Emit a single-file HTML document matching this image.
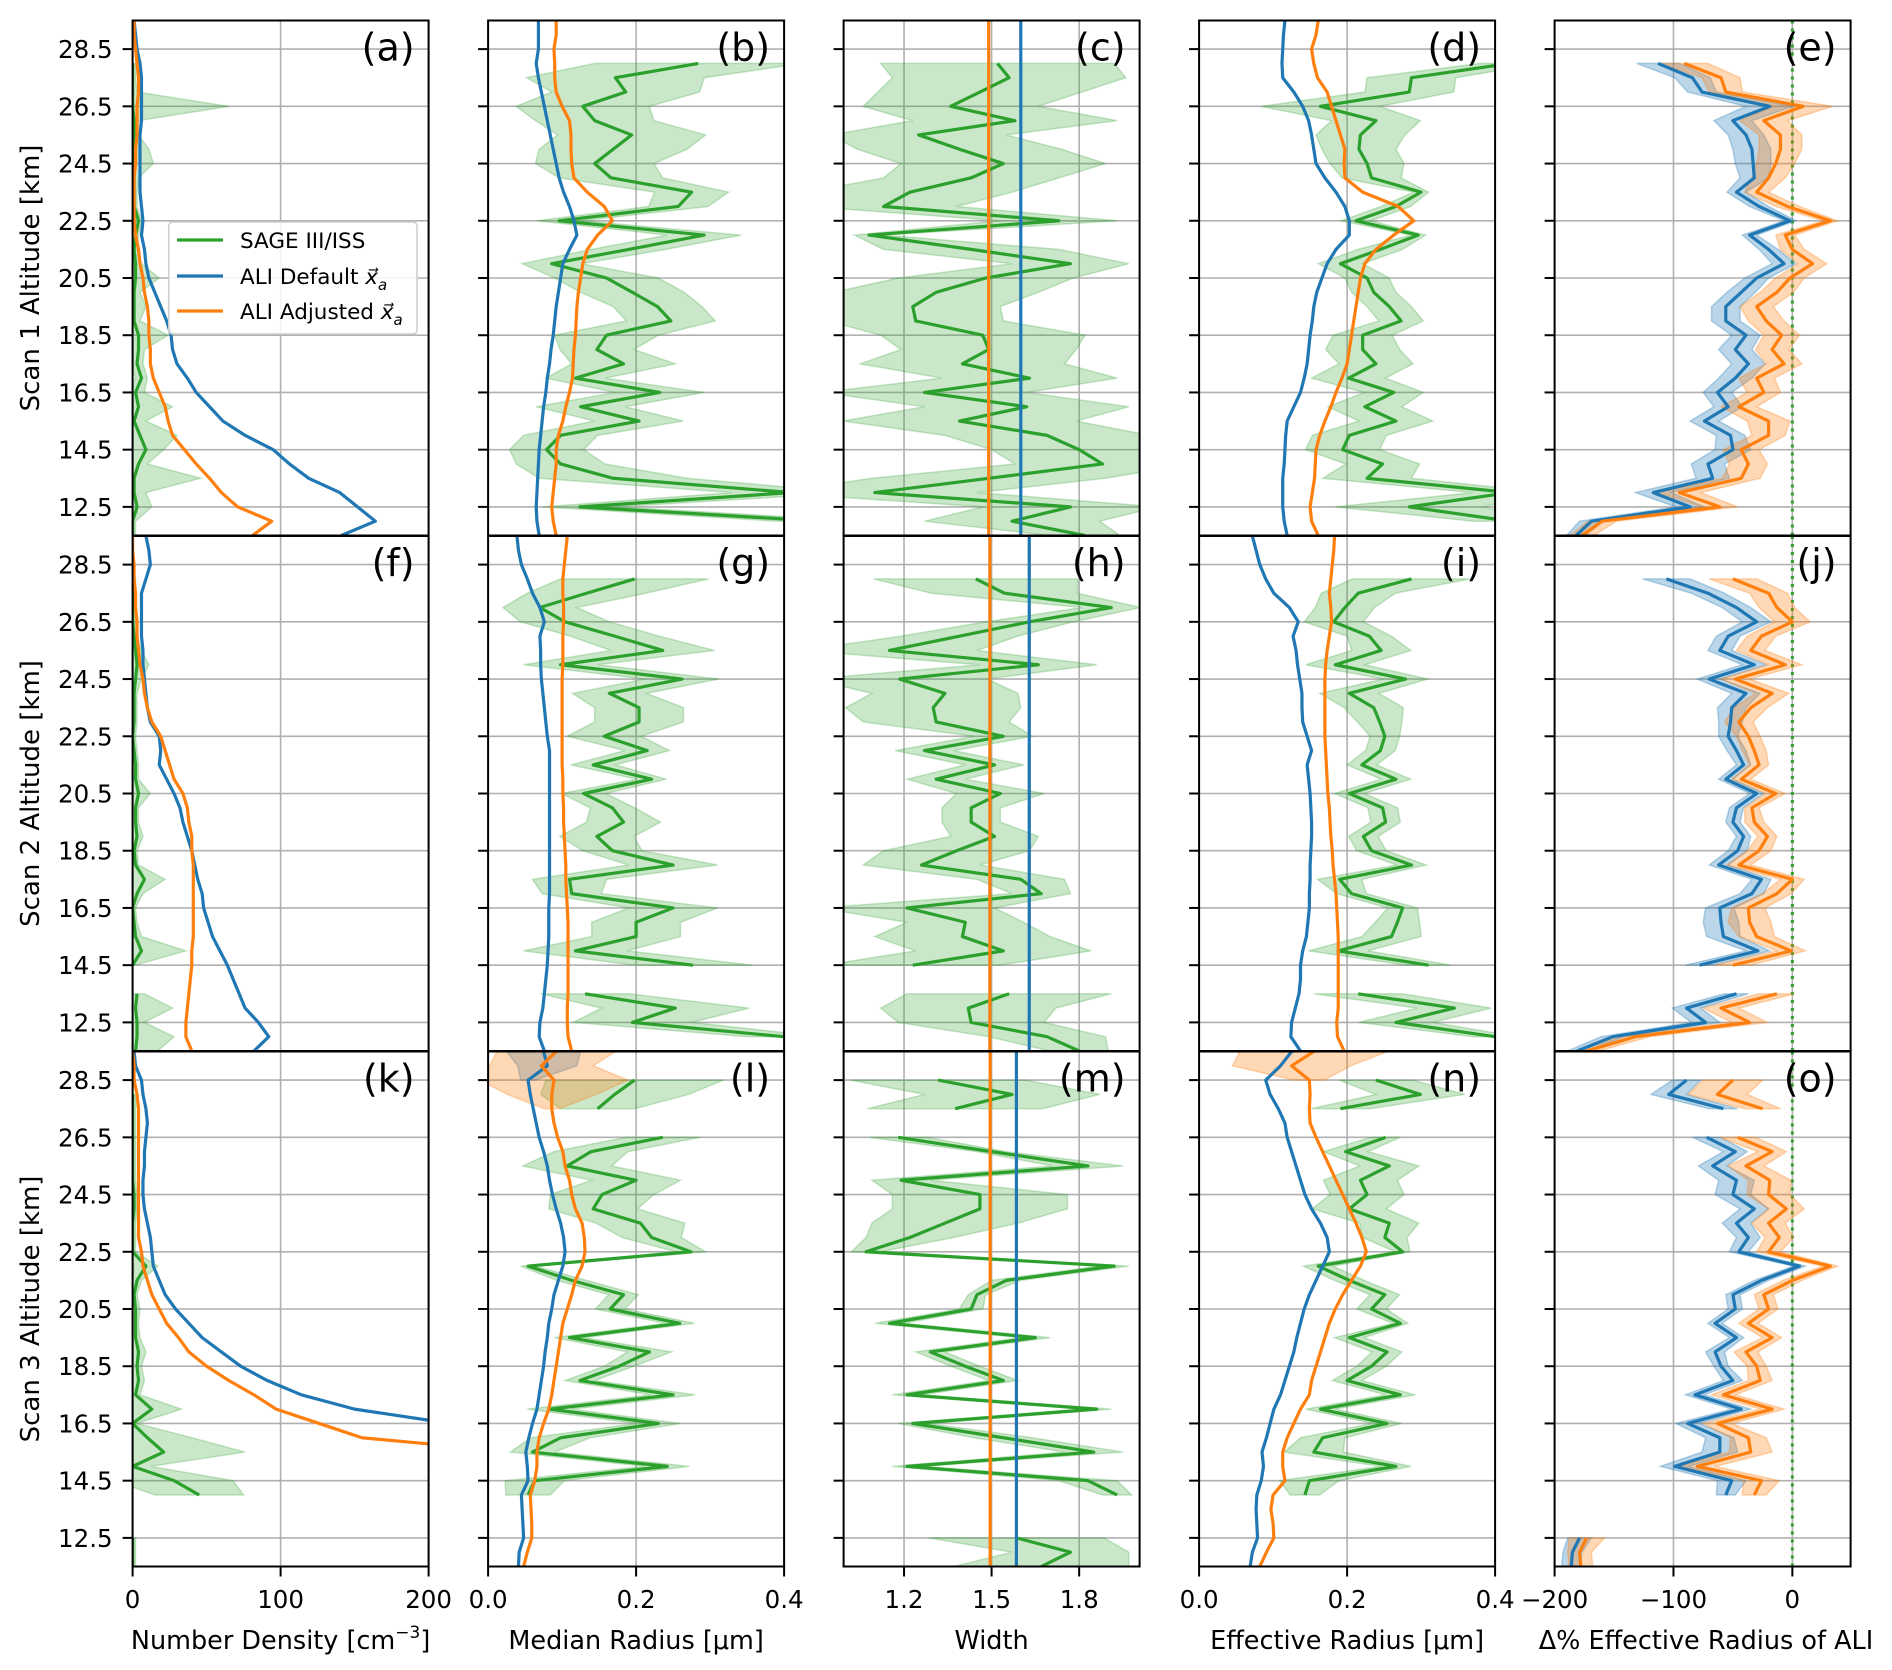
<!DOCTYPE html>
<html><head><meta charset="utf-8"><style>
html,body{margin:0;padding:0;background:#fff;}
svg{display:block;font-family:"DejaVu Sans","Liberation Sans",sans-serif;}
</style></head><body>
<svg id="fig" xmlns="http://www.w3.org/2000/svg" width="1892" height="1670" viewBox="0 0 1892 1670">
<rect x="0" y="0" width="1892" height="1670" fill="#fff"/>
</svg>
<script>
// ---------- data (altitude 11.5 .. 29.5 km, step 0.5) ----------
const altitudes = [11.5,12,12.5,13,13.5,14,14.5,15,15.5,16,16.5,17,17.5,18,18.5,19,19.5,20,20.5,21,21.5,22,22.5,23,23.5,24,24.5,25,25.5,26,26.5,27,27.5,28,28.5,29,29.5];
const yTickValues = [12.5,14.5,16.5,18.5,20.5,22.5,24.5,26.5,28.5];
const yTickLabels = ["12.5","14.5","16.5","18.5","20.5","22.5","24.5","26.5","28.5"];
const xTicksDensity = [0,100,200];   const xTickLabelsDensity = ["0","100","200"];
const xTicksRadius = [0,0.2,0.4];    const xTickLabelsRadius = ["0.0","0.2","0.4"];
const xTicksWidth = [1.2,1.5,1.8];   const xTickLabelsWidth = ["1.2","1.5","1.8"];
const xTicksDelta = [-200,-100,0];   const xTickLabelsDelta = ["\u2212200","\u2212100","0"];
const panelLetters = ["(a)","(b)","(c)","(d)","(e)","(f)","(g)","(h)","(i)","(j)","(k)","(l)","(m)","(n)","(o)"];
const rowTitles = ["Scan 1 Altitude [km]","Scan 2 Altitude [km]","Scan 3 Altitude [km]"];

// Scan 1
const a1_green = [0,0,3,1,1,4,9,5,1,4,2,6,3,4,4,1,1,1,2,2,1,2,4,1,1,1,1,1,1,1,0,0,0,0,null,null,null];
const a1_greenErr = [2,2,10,8,45,6,12,25,8,23,6,4,4,4,20,4,8,4,16,4,2,2,2,2,2,3,13,10,3,3,65,3,2,2,0,0,0];
const a1_blue = [141,164,152,140,119,106,95,76,61,52,43,37,30,27,26,23,19,15,11,9,8,6,7,6,5,5,5,5,5,6,6,6,6,5,3,2,1];
const a1_orange = [81,94,71,60,52,43,35,27,24,22,18,14,12,12,11,11,10,8,7,5,4,2,1,1,1,1,2,2,3,3,3,4,4,3,2,1,1];

const b1_green = [null,0.45,0.124,0.41,0.169,0.098,0.079,0.098,0.204,0.125,0.232,0.118,0.183,0.147,0.16,0.247,0.229,0.195,0.16,0.086,0.19,0.292,0.096,0.257,0.275,0.166,0.144,0.169,0.194,0.144,0.128,0.186,0.172,0.284,null,null,null];
const b1_greenErr = [0,0.06,0.05,0.08,0.1,0.06,0.05,0.05,0.06,0.06,0.06,0.04,0.07,0.05,0.07,0.06,0.06,0.07,0.07,0.04,0.05,0.05,0.03,0.04,0.05,0.07,0.08,0.1,0.1,0.08,0.09,0.1,0.12,0.14,0,0,0];
const b1_blue = [0.069,0.066,0.065,0.066,0.067,0.068,0.069,0.071,0.073,0.075,0.078,0.08,0.083,0.085,0.088,0.09,0.092,0.095,0.098,0.101,0.11,0.12,0.116,0.11,0.102,0.096,0.092,0.088,0.084,0.08,0.076,0.072,0.068,0.065,0.068,0.068,0.068];
const b1_orange = [0.092,0.088,0.086,0.088,0.09,0.092,0.092,0.095,0.101,0.105,0.11,0.114,0.115,0.116,0.118,0.119,0.12,0.122,0.125,0.128,0.134,0.148,0.168,0.157,0.134,0.116,0.113,0.112,0.112,0.11,0.1,0.092,0.09,0.09,0.089,0.092,0.092];

const c1_green = [1.82,1.57,1.77,1.10,1.49,1.88,1.80,1.69,1.39,1.62,1.27,1.63,1.40,1.49,1.47,1.24,1.23,1.31,1.48,1.77,1.43,1.08,1.73,1.13,1.22,1.43,1.54,1.39,1.25,1.58,1.36,1.46,1.56,1.52,null,null,null];
const c1_greenErr = [0.12,0.3,0.3,0.35,0.4,0.3,0.3,0.35,0.4,0.35,0.35,0.3,0.35,0.3,0.35,0.3,0.3,0.35,0.3,0.2,0.3,0.05,0.2,0.25,0.35,0.3,0.35,0.35,0.3,0.35,0.3,0.35,0.4,0.4,0,0,0];
const c1_blue = [1.60];
const c1_orange = [1.49];

const d1_green = [null,0.42,0.284,0.42,0.227,0.248,0.194,0.203,0.266,0.224,0.263,0.202,0.239,0.221,0.221,0.273,0.257,0.236,0.227,0.191,0.245,0.296,0.212,0.266,0.30,0.233,0.227,0.216,0.218,0.239,0.164,0.284,0.287,0.42,null,null,null];
const d1_greenErr = [0,0.05,0.1,0.05,0.06,0.05,0.05,0.05,0.05,0.05,0.04,0.05,0.05,0.05,0.04,0.03,0.03,0.03,0.03,0.03,0.03,0.01,0.02,0.02,0.01,0.04,0.05,0.05,0.06,0.06,0.08,0.06,0.06,0.04,0,0,0];
const d1_blue = [0.119,0.115,0.113,0.113,0.113,0.115,0.116,0.117,0.119,0.128,0.137,0.142,0.146,0.148,0.15,0.153,0.155,0.159,0.166,0.173,0.185,0.203,0.203,0.197,0.185,0.17,0.158,0.155,0.152,0.148,0.14,0.128,0.113,0.112,0.113,0.114,0.116];
const d1_orange = [0.161,0.152,0.15,0.153,0.156,0.157,0.158,0.163,0.17,0.178,0.185,0.193,0.2,0.203,0.206,0.209,0.212,0.215,0.218,0.224,0.239,0.263,0.29,0.269,0.221,0.197,0.196,0.197,0.191,0.185,0.179,0.173,0.16,0.155,0.152,0.158,0.161];

const e1_blue = [-182,-169,-86,-117,-67,-71,-50,-52,-74,-54,-63,-48,-37,-48,-39,-56,-56,-43,-30,-7,-20,-36,-2,-28,-47,-32,-33,-34,-39,-50,-19,-76,-84,-113,null,null,null];
const e1_blueErr = [8,10,12,15,14,14,15,12,12,12,12,14,14,14,12,12,12,12,10,10,8,6,5,8,8,12,15,16,15,16,20,12,15,18,0,0,0];
const e1_orange = [-177,-160,-61,-95,-43,-37,-43,-20,-20,-45,-24,-30,-7,-17,-9,-22,-30,-13,-2,17,0,-6,32,-4,-30,-20,-14,-10,-10,-24,9,-56,-60,-91,null,null,null];
const e1_orangeErr = [10,12,15,18,16,16,15,14,18,15,14,15,15,14,15,15,14,14,12,12,10,8,6,10,10,14,16,18,18,20,25,14,16,20,0,0,0];

// Scan 2
const f2_green = [2,3,3,2,3,null,0,6,2,1,0,3,8,2,1,3,2,2,4,2,2,1,0,1,1,1,2,3,2,1,0,0,0,0,null,null,null];
const f2_greenErr = [15,25,5,25,5,0,2,30,4,2,2,4,14,2,2,4,2,2,8,2,2,2,2,2,2,2,4,8,4,2,2,2,2,2,0,0,0];
const f2_blue = [82,92,85,76,72,68,64,59,54,51,48,47,44,42,40,37,34,32,28,23,18,19,18,12,10,9,8,7,7,6,6,6,6,9,12,11,9];
const f2_orange = [40,36,36,37,38,39,40,40,41,41,41,41,41,41,40,40,38,37,34,28,25,22,19,13,10,8,7,5,4,3,3,2,2,1,1,0,0];

const g2_green = [null,0.40,0.195,0.253,0.131,null,0.277,0.118,0.2,0.2,0.25,0.113,0.11,0.25,0.168,0.147,0.183,0.168,0.129,0.221,0.142,0.215,0.157,0.204,0.204,0.164,0.262,0.098,0.236,0.171,0.104,0.07,0.133,0.198,null,null,null];
const g2_greenErr = [0,0.05,0.08,0.1,0.06,0,0.08,0.07,0.06,0.06,0.06,0.04,0.05,0.06,0.04,0.05,0.05,0.03,0.03,0.02,0.03,0.03,0.05,0.06,0.06,0.05,0.05,0.05,0.07,0.06,0.06,0.05,0.08,0.1,0,0,0];
const g2_blue = [0.076,0.069,0.07,0.074,0.076,0.078,0.08,0.081,0.082,0.082,0.082,0.083,0.083,0.083,0.083,0.083,0.083,0.083,0.083,0.083,0.083,0.083,0.08,0.078,0.076,0.074,0.072,0.071,0.071,0.07,0.076,0.07,0.06,0.053,0.045,0.041,0.039];
const g2_orange = [0.113,0.108,0.107,0.107,0.108,0.108,0.108,0.108,0.108,0.108,0.107,0.106,0.105,0.105,0.104,0.103,0.102,0.102,0.101,0.101,0.1,0.1,0.1,0.1,0.1,0.1,0.1,0.101,0.101,0.101,0.102,0.102,0.101,0.101,0.103,0.105,0.107];

const h2_green = [1.80,1.69,1.43,1.42,1.56,null,1.23,1.54,1.40,1.41,1.21,1.67,1.60,1.26,1.38,1.51,1.43,1.43,1.53,1.31,1.51,1.27,1.54,1.31,1.30,1.34,1.185,1.66,1.15,1.39,1.63,1.91,1.544,1.446,null,null,null];
const h2_greenErr = [0.1,0.2,0.25,0.3,0.35,0,0.3,0.3,0.3,0.2,0.3,0.1,0.15,0.2,0.25,0.15,0.1,0.1,0.15,0.1,0.1,0.1,0.1,0.25,0.3,0.25,0.3,0.2,0.3,0.2,0.15,0.1,0.25,0.35,0,0,0];
const h2_blue = [1.629];
const h2_orange = [1.494];

const i2_green = [null,0.40,0.266,0.345,0.215,null,0.31,0.188,0.26,0.268,0.275,0.206,0.19,0.287,0.233,0.222,0.252,0.248,0.203,0.266,0.22,0.245,0.251,0.244,0.236,0.203,0.279,0.184,0.246,0.23,0.182,0.197,0.215,0.287,null,null,null];
const i2_greenErr = [0,0.03,0.05,0.05,0.06,0,0.03,0.04,0.04,0.03,0.02,0.02,0.03,0.02,0.02,0.02,0.02,0.02,0.02,0.02,0.02,0.02,0.02,0.03,0.04,0.04,0.03,0.04,0.04,0.03,0.04,0.04,0.05,0.08,0,0,0];
const i2_blue = [0.137,0.124,0.125,0.13,0.135,0.137,0.137,0.14,0.145,0.147,0.149,0.149,0.15,0.15,0.151,0.152,0.152,0.151,0.15,0.148,0.146,0.152,0.146,0.14,0.139,0.139,0.136,0.133,0.131,0.127,0.134,0.122,0.101,0.09,0.082,0.077,0.072];
const i2_orange = [0.196,0.187,0.186,0.188,0.188,0.188,0.188,0.188,0.188,0.187,0.186,0.185,0.183,0.181,0.18,0.178,0.177,0.176,0.174,0.173,0.172,0.171,0.17,0.17,0.17,0.17,0.17,0.171,0.173,0.176,0.179,0.178,0.176,0.178,0.18,0.182,0.183];

const j2_blue = [-181,-151,-73,-89,-47,null,-78,-29,-58,-60,-61,-34,-26,-62,-46,-41,-50,-47,-30,-56,-41,-47,-54,-52,-51,-39,-70,-32,-61,-54,-30,-47,-71,-106,null,null,null];
const j2_blueErr = [8,10,12,12,10,0,12,10,14,15,12,10,8,8,8,6,6,6,6,6,6,8,8,10,12,12,10,10,10,10,12,12,14,20,0,0,0];
const j2_orange = [-173,-132,-36,-60,-13,null,-50,-1,-30,-36,-37,-13,0,-45,-28,-21,-32,-34,-14,-43,-28,-32,-37,-45,-35,-17,-48,-6,-35,-26,0,-13,-20,-50,null,null,null];
const j2_orangeErr = [10,12,15,15,15,0,15,12,15,18,14,12,10,10,10,8,8,6,8,8,8,10,10,12,14,14,12,14,12,12,15,15,16,20,0,0,0];

// Scan 3
const k3_green = [0,0,0,null,null,45,28,0,21,10,0,13,2,4,3,4,2,2,2,1,3,9,0,0,0,1,1,0,0,0,0,0,0,0,null,null,null];
const k3_greenErr = [2,2,2,0,0,30,40,12,55,30,3,20,3,4,3,5,3,2,3,2,3,8,2,2,2,2,2,2,2,2,2,2,2,2,0,0,0];
const k3_blue = [null,null,null,null,null,null,null,null,400,320,215,150,114,91,73,60,47,38,29,22,18,14,13,12,10,8,7,7,8,8,9,10,9,7,6,2,1];
const k3_orange = [null,null,null,null,null,null,null,400,260,155,126,97,82,65,50,38,31,23,18,13,10,7,6,4,4,4,4,4,4,4,4,4,4,3,1,1,0];

const l3_green = [null,null,null,null,null,0.054,0.063,0.242,0.06,0.098,0.23,0.083,0.25,0.124,0.177,0.218,0.11,0.259,0.165,0.183,0.113,0.054,0.274,0.221,0.206,0.142,0.154,0.2,0.107,0.139,0.236,null,0.148,0.171,0.198,null,null];
const l3_greenErr = [0,0,0,0,0,0.03,0.04,0.03,0.03,0.04,0.03,0.03,0.03,0.02,0.02,0.03,0.02,0.02,0.02,0.02,0.02,0.01,0.02,0.04,0.06,0.06,0.07,0.06,0.06,0.05,0.05,0,0.05,0.1,0.12,0,0];
const l3_blue = [0.041,0.042,0.048,0.047,0.046,0.045,0.054,0.053,0.051,0.055,0.06,0.066,0.069,0.072,0.075,0.077,0.08,0.082,0.086,0.089,0.095,0.101,0.104,0.102,0.098,0.092,0.087,0.083,0.08,0.075,0.069,0.065,0.061,0.057,0.054,0.08,0.075];
const l3_blueErr = [0,0,0,0,0,0,0,0,0,0,0,0,0,0,0,0,0,0,0,0,0,0,0,0,0,0,0,0,0,0,0,0,0,0,0.01,0.04,0.05];
const l3_orange = [0.048,0.053,0.059,0.059,0.058,0.057,0.063,0.066,0.066,0.069,0.075,0.082,0.086,0.089,0.092,0.095,0.098,0.101,0.107,0.113,0.118,0.127,0.131,0.13,0.127,0.118,0.113,0.11,0.104,0.101,0.094,0.089,0.086,0.086,0.089,0.072,0.092];
const l3_orangeErr = [0,0,0,0,0,0,0,0,0,0,0,0,0,0,0,0,0,0,0,0,0,0,0,0,0,0,0,0,0,0,0,0,0.01,0.06,0.1,0.07,0.08];

const m3_green = [1.67,1.77,1.585,null,null,1.93,1.83,1.21,1.85,1.54,1.23,1.86,1.21,1.54,1.41,1.29,1.65,1.15,1.43,1.45,1.55,1.92,1.07,1.22,1.34,1.46,1.46,1.19,1.83,1.50,1.18,null,1.375,1.57,1.317,null,null];
const m3_greenErr = [0.3,0.2,0.3,0,0,0.05,0.1,0.05,0.1,0.1,0.05,0.05,0.05,0.05,0.05,0.05,0.05,0.05,0.04,0.03,0.05,0.05,0.05,0.15,0.25,0.3,0.3,0.1,0.12,0.05,0.1,0,0.3,0.3,0.3,0,0];
const m3_blue = [1.585];
const m3_orange = [1.495];

const n3_green = [null,null,null,null,null,0.143,0.149,0.266,0.155,0.167,0.254,0.164,0.272,0.2,0.233,0.254,0.203,0.272,0.233,0.251,0.203,0.161,0.275,0.251,0.257,0.203,0.227,0.218,0.257,0.198,0.252,null,0.191,0.299,0.239,null,null];
const n3_greenErr = [0,0,0,0,0,0.02,0.04,0.02,0.04,0.03,0.02,0.02,0.02,0.02,0.02,0.02,0.02,0.01,0.02,0.02,0.02,0.02,0.01,0.03,0.04,0.05,0.05,0.05,0.04,0.03,0.02,0,0.04,0.06,0.05,0,0];
const n3_blue = [0.069,0.072,0.079,0.078,0.077,0.078,0.084,0.087,0.085,0.091,0.096,0.101,0.11,0.116,0.122,0.128,0.132,0.137,0.142,0.149,0.158,0.167,0.176,0.173,0.164,0.152,0.143,0.137,0.131,0.125,0.119,0.116,0.107,0.096,0.09,0.11,0.125];
const n3_orange = [0.082,0.091,0.101,0.1,0.097,0.1,0.116,0.113,0.113,0.119,0.128,0.137,0.149,0.152,0.158,0.164,0.17,0.176,0.184,0.194,0.206,0.218,0.226,0.22,0.212,0.203,0.194,0.185,0.176,0.167,0.158,0.15,0.149,0.15,0.149,0.125,0.155];
const n3_orangeErr = [0,0,0,0,0,0,0,0,0,0,0,0,0,0,0,0,0,0,0,0,0,0,0,0,0,0,0,0,0,0,0,0,0,0,0.02,0.08,0.1];

const o3_blue = [-186,-185,-179,null,null,-56,-51,-99,-61,-61,-88,-43,-82,-50,-60,-65,-47,-65,-48,-50,-26,6,-45,-37,-47,-32,-50,-47,-67,-48,-72,null,-58,-104,-89,null,null];
const o3_blueErr = [8,8,10,0,0,8,12,12,15,12,10,8,8,8,6,8,6,6,6,6,6,5,8,10,12,12,15,15,12,10,12,0,12,15,12,0,0];
const o3_orange = [-178,-179,-173,null,null,-32,-26,-80,-35,-37,-63,-17,-58,-27,-30,-39,-17,-37,-20,-24,0,32,-20,-11,-20,-5,-20,-19,-39,-17,-46,null,-25,-63,-50,null,null];
const o3_orangeErr = [10,10,15,0,0,10,15,15,18,15,12,10,10,10,8,10,8,8,8,8,8,6,10,12,14,15,18,18,15,12,15,0,15,25,25,0,0];

// ---------- layout ----------
const svg = document.getElementById('fig');
const NS = 'http://www.w3.org/2000/svg';
const PW = 296, PH = 515;
const colX = [132.6, 488.1, 843.6, 1199.1, 1554.6];
const rowY = [20.5, 536, 1051.5];
const ZMIN = 11.5, ZMAX = 29.5;
const C_G = '#2ca02c', C_B = '#1f77b4', C_O = '#ff7f0e';
const axesCfg = [
  {xmin:0, xmax:200, ticks:xTicksDensity, labels:xTickLabelsDensity},
  {xmin:0, xmax:0.4, ticks:xTicksRadius, labels:xTickLabelsRadius},
  {xmin:0.993, xmax:2.007, ticks:xTicksWidth, labels:xTickLabelsWidth},
  {xmin:0, xmax:0.4, ticks:xTicksRadius, labels:xTickLabelsRadius},
  {xmin:-200, xmax:49, ticks:xTicksDelta, labels:xTickLabelsDelta}
];
const panelSeries = [
  [{g:a1_green,ge:a1_greenErr,b:a1_blue,o:a1_orange},{g:b1_green,ge:b1_greenErr,b:b1_blue,o:b1_orange},{g:c1_green,ge:c1_greenErr,b:c1_blue,o:c1_orange},{g:d1_green,ge:d1_greenErr,b:d1_blue,o:d1_orange},{b:e1_blue,be:e1_blueErr,o:e1_orange,oe:e1_orangeErr}],
  [{g:f2_green,ge:f2_greenErr,b:f2_blue,o:f2_orange},{g:g2_green,ge:g2_greenErr,b:g2_blue,o:g2_orange},{g:h2_green,ge:h2_greenErr,b:h2_blue,o:h2_orange},{g:i2_green,ge:i2_greenErr,b:i2_blue,o:i2_orange},{b:j2_blue,be:j2_blueErr,o:j2_orange,oe:j2_orangeErr}],
  [{g:k3_green,ge:k3_greenErr,b:k3_blue,o:k3_orange},{g:l3_green,ge:l3_greenErr,b:l3_blue,be:l3_blueErr,o:l3_orange,oe:l3_orangeErr},{g:m3_green,ge:m3_greenErr,b:m3_blue,o:m3_orange},{g:n3_green,ge:n3_greenErr,b:n3_blue,o:n3_orange,oe:n3_orangeErr},{b:o3_blue,be:o3_blueErr,o:o3_orange,oe:o3_orangeErr}]
];

function mk(tag, attrs, parent){
  const e = document.createElementNS(NS, tag);
  for (const k in attrs) e.setAttribute(k, attrs[k]);
  (parent||svg).appendChild(e);
  return e;
}
const defs = mk('defs', {});

function drawLine(g, sx, sy, vals, color, name){
  if (vals.length === 1){
    const l = mk('line', {x1:sx(vals[0]), x2:sx(vals[0]), y1:sy(ZMIN), y2:sy(ZMAX), stroke:color, 'stroke-width':3.2}, g);
    
    
    return;
  }
  let d = '', pen = false;
  for (let i = 0; i < altitudes.length; i++){
    const v = vals[i];
    if (v === null || v === undefined){ pen = false; continue; }
    d += (pen ? 'L' : 'M') + sx(v).toFixed(2) + ',' + sy(altitudes[i]).toFixed(2);
    pen = true;
  }
  const p = mk('path', {d:d, fill:'none', stroke:color, 'stroke-width':3.2, 'stroke-linejoin':'round'}, g);
  
  
}
function drawBand(g, sx, sy, vals, errs, color, op, name){
  if (!errs || vals.length === 1) return;
  let seg = [];
  const segs = [];
  for (let i = 0; i < altitudes.length; i++){
    const v = vals[i], e = errs[i];
    if (v === null || e === null || !(e > 0)){ if (seg.length) segs.push(seg); seg = []; continue; }
    seg.push(i);
  }
  if (seg.length) segs.push(seg);
  segs.forEach(s => {
    let pts = [];
    s.forEach(i => pts.push(sx(vals[i]-errs[i]).toFixed(2)+','+sy(altitudes[i]).toFixed(2)));
    s.slice().reverse().forEach(i => pts.push(sx(vals[i]+errs[i]).toFixed(2)+','+sy(altitudes[i]).toFixed(2)));
    const poly = mk('polygon', {points:pts.join(' '), fill:color, 'fill-opacity':op, stroke:color, 'stroke-opacity':op, 'stroke-width':1.5}, g);
    
    
  });
}

for (let r = 0; r < 3; r++){
  for (let c = 0; c < 5; c++){
    const cfg = axesCfg[c];
    const x0 = colX[c], y0 = rowY[r];
    const sx = v => x0 + (v - cfg.xmin) / (cfg.xmax - cfg.xmin) * PW;
    const sy = z => y0 + (ZMAX - z) / (ZMAX - ZMIN) * PH;
    const idx = r*5 + c;
    const g = mk('g', {});
    
    
    const clipId = 'clip' + idx;
    const cp = mk('clipPath', {id:clipId}, defs);
    mk('rect', {x:x0, y:y0, width:PW, height:PH}, cp);
    // grid
    const grid = mk('g', {stroke:'#b0b0b0', 'stroke-width':1.6}, g);
    
    
    yTickValues.forEach(z => mk('line', {x1:x0, x2:x0+PW, y1:sy(z), y2:sy(z)}, grid));
    cfg.ticks.forEach(t => mk('line', {x1:sx(t), x2:sx(t), y1:y0, y2:y0+PH}, grid));
    const data = mk('g', {'clip-path':'url(#'+clipId+')'}, g);
    
    
    const S = panelSeries[r][c];
    if (c === 4){
      const zl = mk('line', {x1:sx(0), x2:sx(0), y1:y0, y2:y0+PH, stroke:C_G, 'stroke-width':3, 'stroke-dasharray':'3,5'}, data);
      
      
    }
    if (S.g){ drawBand(data, sx, sy, S.g, S.ge, C_G, 0.25, 'sage-uncertainty'); }
    if (S.b){ drawBand(data, sx, sy, S.b, S.be, C_B, 0.3, 'ali-default-uncertainty'); }
    if (S.o){ drawBand(data, sx, sy, S.o, S.oe, C_O, 0.3, 'ali-adjusted-uncertainty'); }
    if (S.g){ drawLine(data, sx, sy, S.g, C_G, 'sage-line'); }
    if (S.b){ drawLine(data, sx, sy, S.b, C_B, 'ali-default-line'); }
    if (S.o){ drawLine(data, sx, sy, S.o, C_O, 'ali-adjusted-line'); }
    // spines
    const sp = mk('rect', {x:x0, y:y0, width:PW, height:PH, fill:'none', stroke:'#000', 'stroke-width':2}, g);
    
    
    // y ticks
    yTickValues.forEach((z, k) => {
      mk('line', {x1:x0-10, x2:x0, y1:sy(z), y2:sy(z), stroke:'#000', 'stroke-width':2}, g);
      if (c === 0){
        const t = mk('text', {x:x0-20, y:sy(z)+9, 'text-anchor':'end', 'font-size':24.5, fill:'#000'}, g);
        t.textContent = yTickLabels[k];
        
        
      }
    });
    // x ticks on bottom row
    if (r === 2){
      cfg.ticks.forEach((tv, k) => {
        mk('line', {x1:sx(tv), x2:sx(tv), y1:y0+PH, y2:y0+PH+10, stroke:'#000', 'stroke-width':2}, g);
        const t = mk('text', {x:sx(tv), y:1608, 'text-anchor':'middle', 'font-size':24.5, fill:'#000'}, g);
        t.textContent = cfg.labels[k];
        
        
      });
    }
    // panel letter
    const pl = mk('text', {x:x0+PW-14, y:y0+40, 'text-anchor':'end', 'font-size':38, fill:'#000'}, g);
    pl.textContent = panelLetters[idx];
    
    
  }
  const yt = mk('text', {x:0, y:0, transform:'translate(39,'+(rowY[r]+PH/2)+') rotate(-90)', 'text-anchor':'middle', 'font-size':26, fill:'#000'});
  yt.textContent = rowTitles[r];
  
  
}
</script>
<svg width="0" height="0" style="position:absolute"></svg>
<script>
(function(){
  const svg = document.getElementById('fig');
  const NS = 'http://www.w3.org/2000/svg';
  // x-axis titles
  const xt = document.createElementNS(NS, 'g');
  xt.setAttribute('font-size', '25.5');
  xt.setAttribute('text-anchor', 'middle');
  xt.innerHTML =
    '<text x="280.6" y="1649">Number Density [cm<tspan font-size="17" dy="-11">\u22123</tspan><tspan dy="11">]</tspan></text>' +
    '<text x="636.1" y="1649">Median Radius [\u03bcm]</text>' +
    '<text x="991.6" y="1649">Width</text>' +
    '<text x="1347.1" y="1649">Effective Radius [\u03bcm]</text>' +
    '<text x="1706" y="1649">\u0394% Effective Radius of ALI</text>';
  
  
  svg.appendChild(xt);
  // legend
  const lg = document.createElementNS(NS, 'g');
  
  
  lg.innerHTML =
    '<rect x="168.7" y="222" width="248.3" height="112" rx="4" fill="#fff" fill-opacity="0.85" stroke="#cccccc" stroke-width="1.5"/>' +
    '<g><line x1="177" x2="223" y1="240" y2="240" stroke="#2ca02c" stroke-width="3.2"/><text x="240" y="248" font-size="21.5">SAGE III/ISS</text></g>' +
    '<g><line x1="177" x2="223" y1="276" y2="276" stroke="#1f77b4" stroke-width="3.2"/><text x="240" y="284" font-size="21.5">ALI Default <tspan font-style="italic">x\u20d7</tspan><tspan font-style="italic" font-size="15" dy="6">a</tspan></text></g>' +
    '<g><line x1="177" x2="223" y1="311" y2="311" stroke="#ff7f0e" stroke-width="3.2"/><text x="240" y="319" font-size="21.5">ALI Adjusted <tspan font-style="italic">x\u20d7</tspan><tspan font-style="italic" font-size="15" dy="6">a</tspan></text></g>';
  svg.appendChild(lg);
})();
</script>
</body></html>
